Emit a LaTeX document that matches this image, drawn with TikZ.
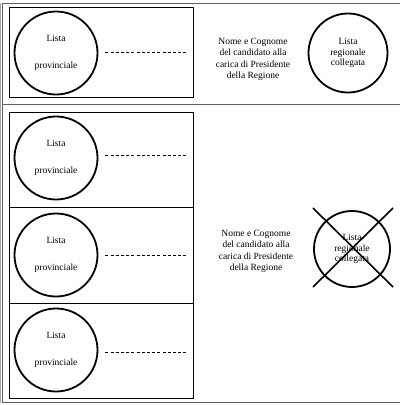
\documentclass[tikz,border=0pt]{standalone}
\usepackage{fontspec}
\setmainfont{Liberation Serif}
\usetikzlibrary{positioning, calc}
\definecolor{frameline}{HTML}{606060}
\definecolor{frameshade}{HTML}{A8A8A8}

\begin{document}
\begin{tikzpicture}[x=1pt, y=-1pt,
    votebox/.style={draw=black, line width=0.8pt},
    lista/.style={circle, draw=black, line width=1.8pt, minimum size=#1,
                  inner sep=0pt, align=center, font=\fontsize{9.5}{10.8}\selectfont},
    lista/.default=83pt,
    dots/.style={dashed, dash pattern=on 3pt off 2.2pt, line width=0.6pt},
    nome/.style={align=center, font=\fontsize{9.5}{11.3}\selectfont},
    cross/.style={line width=1.6pt}
]
\useasboundingbox (0,0) rectangle (400,405);

% outer table frame
\draw[frameshade, line width=0.8pt] (0.8,3) -- (0.8,403);
\draw[frameline, line width=0.9pt] (400,3) -- (2.5,3) -- (2.5,402.5) -- (400,402.5);
\draw[frameline, line width=0.9pt] (2.5,104) -- (400,104);

% upper section: single provincial list
\draw[votebox] (9,7) rectangle (193,97);
\node[lista] (prov0) at (56,53) {Lista\\[16pt]provinciale};
\coordinate (end0) at (186,52);
\draw[dots] (prov0.east) ++(7,-1) coordinate (start0) -- (end0);

\node[nome] (nome0) at (253,59.5)
    {Nome e Cognome\\del candidato alla\\carica di Presidente\\della Regione};
\node[lista=79pt] (reg0) at (348,53)
    {Lista\\regionale\\collegata};

% lower section: three provincial lists
\draw[votebox] (9,112) rectangle (193,207);
\draw[votebox] (9,207) rectangle (193,303);
\draw[votebox] (9,303) rectangle (193,398);

\node[lista] (prov1) at (56,158) {Lista\\[16pt]provinciale};
\node[lista] (prov2) at (56,255) {Lista\\[16pt]provinciale};
\node[lista] (prov3) at (56,350) {Lista\\[16pt]provinciale};

\coordinate (end1) at (186,155);
\coordinate (end2) at (186,255);
\coordinate (end3) at (186,352);
\draw[dots] (prov1.east |- end1) ++(7,0) -- (end1);
\draw[dots] (prov2.east |- end2) ++(7,0) -- (end2);
\draw[dots] (prov3.east |- end3) ++(7,0) -- (end3);

\node[nome] (nome1) at (256,251.5)
    {Nome e Cognome\\del candidato alla\\carica di Presidente\\della Regione};
\node[lista=76pt] (reg1) at (352,249)
    {Lista\\regionale\\collegata};

% crossed out regional list
\draw[cross] ($(reg1.center)+(-39,-41)$) -- ($(reg1.center)+(41,38)$);
\draw[cross] ($(reg1.center)+(41,-41)$) -- ($(reg1.center)+(-39,38)$);
\end{tikzpicture}
\end{document}
